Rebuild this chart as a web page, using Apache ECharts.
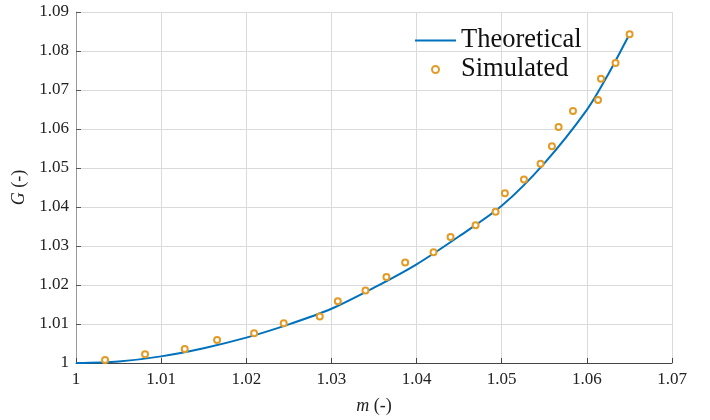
<!DOCTYPE html>
<html>
<head>
<meta charset="utf-8">
<script src="https://cdn.jsdelivr.net/npm/echarts@6/dist/echarts.min.js"></script>
<style>html,body{margin:0;padding:0;background:#fff}#c{width:710px;height:420px}</style>
</head>
<body>
<div id="c"></div>
<script>
// Theoretical curve
const theoM = [1.000, 1.005, 1.010, 1.015, 1.020, 1.025, 1.030, 1.035, 1.040, 1.045, 1.050, 1.055, 1.060, 1.0625, 1.065];
const theoG = [1.0000, 1.0004, 1.0017, 1.0038, 1.0065, 1.0099, 1.0139, 1.0193, 1.0253, 1.0325, 1.0403, 1.0512, 1.0649, 1.0740, 1.0843];
// Simulated points
const simM = [1.00341, 1.00811, 1.01277, 1.01657, 1.02092, 1.02440, 1.02863, 1.03075, 1.03400, 1.03646, 1.03866, 1.04199, 1.04399, 1.04693, 1.04928, 1.05037, 1.05261, 1.05456, 1.05590, 1.05668, 1.05837, 1.06131, 1.06166, 1.06337, 1.06502];
const simG = [1.00077, 1.00223, 1.00358, 1.00588, 1.00765, 1.01018, 1.01194, 1.01584, 1.01858, 1.02207, 1.02575, 1.02839, 1.03230, 1.03529, 1.03880, 1.04355, 1.04706, 1.05107, 1.05558, 1.06054, 1.06463, 1.06744, 1.07289, 1.07690, 1.08432];
const xTickLabels = ['1', '1.01', '1.02', '1.03', '1.04', '1.05', '1.06', '1.07'];
const yTickLabels = ['1', '1.01', '1.02', '1.03', '1.04', '1.05', '1.06', '1.07', '1.08', '1.09'];

const FONT = 'Liberation Serif';
const ORANGE = '#E39B25';
const BLUE = '#0072BD';
const chart = echarts.init(document.getElementById('c'), null, {renderer: 'canvas'});
chart.setOption({
  animation: false,
  backgroundColor: '#fff',
  grid: {left: 76, right: 38, top: 12, bottom: 56, containLabel: false},
  legend: {
    orient: 'vertical', left: 410, top: 22,
    itemWidth: 41, itemHeight: 7, itemGap: 2,
    textStyle: {fontFamily: FONT, fontSize: 26.5, color: '#111', lineHeight: 26},
    data: [
      {name: 'Theoretical', icon: 'path://M0,0 L41,0 L41,2 L0,2 Z', itemStyle: {color: BLUE}},
      {name: 'Simulated', icon: 'circle', itemStyle: {color: '#fff', borderColor: ORANGE, borderWidth: 2}}
    ]
  },
  xAxis: {
    type: 'value', min: 1.0, max: 1.07, interval: 0.01,
    name: '{i|m} (-)', nameLocation: 'middle', nameGap: 34,
    nameTextStyle: {fontFamily: FONT, fontSize: 18, color: '#222',
      rich: {i: {fontFamily: FONT, fontStyle: 'italic', fontSize: 18, color: '#222'}}},
    axisLine: {show: true, onZero: false, lineStyle: {color: '#444', width: 1}},
    axisTick: {show: true, inside: true, length: 5, lineStyle: {color: '#444'}},
    axisLabel: {fontFamily: FONT, fontSize: 17, color: '#222', margin: 8,
      formatter: (v, i) => xTickLabels[i]},
    splitLine: {show: true, lineStyle: {color: '#dadada', width: 1}}
  },
  yAxis: {
    type: 'value', min: 1.0, max: 1.09, interval: 0.01,
    name: '{i|G} (-)', nameLocation: 'middle', nameGap: 41, nameRotate: 90,
    nameTextStyle: {fontFamily: FONT, fontSize: 18, color: '#222',
      rich: {i: {fontFamily: FONT, fontStyle: 'italic', fontSize: 18, color: '#222'}}},
    axisLine: {show: true, onZero: false, lineStyle: {color: '#999', width: 1}},
    axisTick: {show: true, inside: true, length: 5, lineStyle: {color: '#555'}},
    axisLabel: {fontFamily: FONT, fontSize: 17, color: '#222', margin: 7,
      formatter: (v, i) => yTickLabels[i]},
    splitLine: {show: true, lineStyle: {color: '#dadada', width: 1}}
  },
  series: [
    {
      name: 'Theoretical', type: 'line', symbol: 'none', smooth: 0.3,
      data: theoM.map((m, i) => [m, theoG[i]]),
      lineStyle: {color: BLUE, width: 2},
      itemStyle: {color: BLUE}, z: 2
    },
    {
      name: 'Simulated', type: 'scatter', symbol: 'circle', symbolSize: 6,
      data: simM.map((m, i) => [m, simG[i]]),
      itemStyle: {color: '#fff', borderColor: ORANGE, borderWidth: 2, opacity: 1},
      z: 3
    }
  ]
});
</script>
</body>
</html>
